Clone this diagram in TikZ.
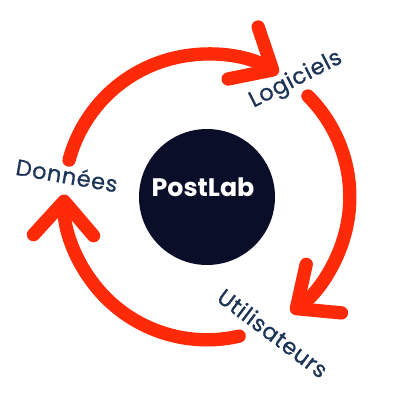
\documentclass[tikz,border=0pt]{standalone}
\usepackage{fontspec}
\setmainfont{Poppins}
\newfontfamily\steplabelfont{Poppins}[FakeBold=0.7,LetterSpace=3]
\definecolor{cycleRed}{RGB}{255,42,8}
\definecolor{postNavy}{RGB}{10,14,41}
\definecolor{labelBlue}{RGB}{28,52,86}
\usetikzlibrary{arrows.meta,positioning,calc}

\begin{document}
\begin{tikzpicture}[
    cyclearc/.style={line width=9.5pt, draw=cycleRed, line cap=round,
      -{Straight Barb[round,length=0.85cm,width=1.5cm]}},
    steplabel/.style={font=\steplabelfont\fontsize{16}{18}\selectfont, text=labelBlue, inner sep=1pt}
  ]
  \useasboundingbox (-5.175,-5.075) rectangle (4.825,4.925);
  % centre circle
  \node[circle, fill=postNavy, minimum size=3.4cm, inner sep=0pt] (post) at (0,0) {};
  \node[font=\fontsize{18}{20}\selectfont\bfseries, text=white] (postlab) at (-0.1,0.24) {PostLab};
  % labels round the cycle
  \node[steplabel, rotate=-10] (donnees) at (-3.5,0.55) {Données};
  \node[steplabel, rotate=27] (logiciels) at (2.225,2.925) {Logiciels};
  \node[steplabel, rotate=-37] (utilisateurs) at (1.65,-3.4) {Utilisateurs};
  % arc ends
  \coordinate (d out) at (165:3.57);
  \coordinate (l out) at (45:3.57);
  \coordinate (u out) at (-77:3.57);
  % arrows
  \draw[cyclearc] (d out) arc[start angle=165, end angle=60, radius=3.57];
  \draw[cyclearc] (l out) arc[start angle=45, end angle=-54, radius=3.57];
  \draw[cyclearc] (u out) arc[start angle=-77, end angle=-181, radius=3.57];
\end{tikzpicture}
\end{document}
